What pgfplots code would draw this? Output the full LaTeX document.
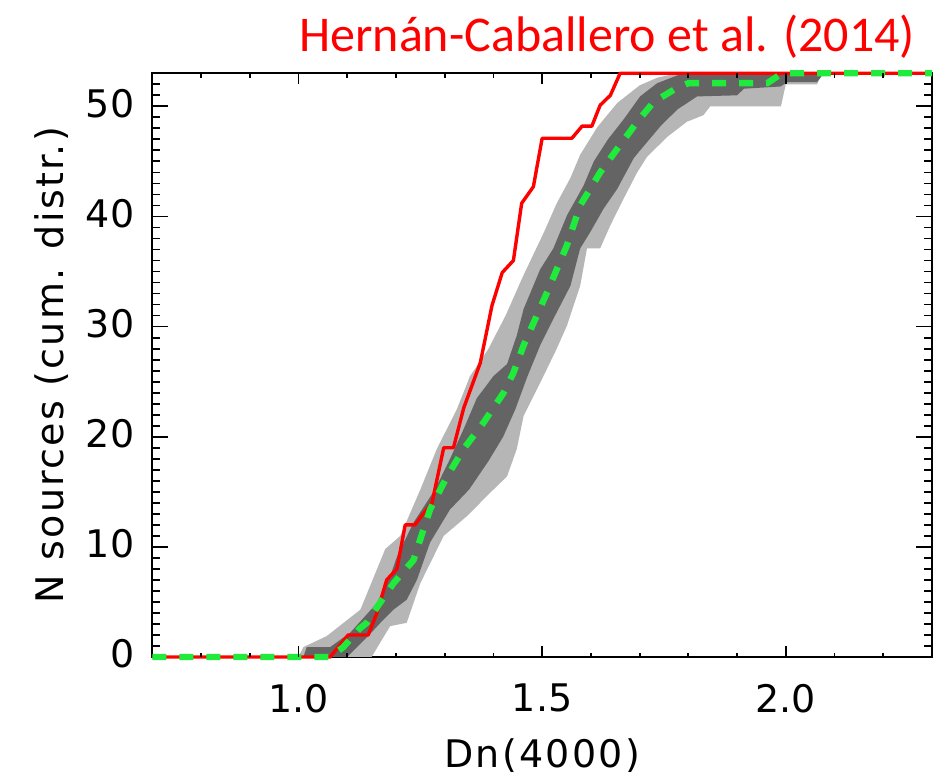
\documentclass[border=0pt]{standalone}
\usepackage{fontspec}
\setmainfont{DejaVu Sans}
\newfontfamily\labelfont[LetterSpace=6]{DejaVu Sans}
\newfontfamily\titlefont{Carlito}
\usepackage{pgfplots}
\pgfplotsset{compat=1.18}

\definecolor{obsred}{RGB}{255,0,0}
\definecolor{simgreen}{RGB}{30,235,60}
\definecolor{banddark}{RGB}{100,100,100}
\definecolor{bandlight}{RGB}{182,182,182}

% shared frame of both axes (data axis and x-tick axis)
\pgfplotsset{
  dnframe/.style={
    at={(76.15pt,58.5pt)}, anchor=south west,
    scale only axis, width=389.85pt, height=291.85pt,
    xmin=0.7, xmax=2.3, ymin=0, ymax=53,
    tick align=inside,
    every tick/.style={black, line width=0.9pt},
    /pgf/number format/assume math mode=true,
  }
}

\begin{document}
\begin{tikzpicture}
% data, frame, y ticks
\begin{axis}[dnframe,
  clip=false,
  axis line style={black, line width=1.2pt},
  xtick=\empty,
  ytick={0,10,20,30,40,50},
  minor ytick={1,...,52},
  major tick length=8pt, minor tick length=4pt,
  yticklabel style={font=\fontsize{19}{22}\selectfont, xshift=-5.5pt, yshift=1.5pt},
  ylabel={N sources (cum. distr.)},
  ylabel style={font=\labelfont\fontsize{19}{22}\selectfont,
    at={(axis description cs:-0.1144,0.5)}, anchor=base},
]
% 2-sigma envelope of the simulations
\addplot[fill=bandlight, draw=none] coordinates {
  (1.000,0) (1.010,0.9) (1.058,1.9) (1.127,4.3) (1.178,9.8) (1.209,11.0)
  (1.250,15.2) (1.284,18.9) (1.325,22.5) (1.352,25.5) (1.390,28.0)
  (1.425,31.0) (1.460,34.5) (1.503,38.5) (1.530,41.2) (1.558,43.5)
  (1.578,45.6) (1.613,48.1) (1.654,50.3) (1.700,51.9) (1.736,52.6)
  (1.777,53.0)
  (2.075,53.0) (2.064,52.0) (2.000,52.0) (1.990,50.0) (1.845,50.0)
  (1.831,49.2) (1.797,48.6) (1.756,47.2) (1.715,45.4) (1.695,44.0)
  (1.667,41.6) (1.640,39.2) (1.619,37.1) (1.592,37.1) (1.578,33.7)
  (1.551,30.1) (1.530,28.0) (1.496,24.9) (1.462,21.9) (1.448,18.9)
  (1.428,16.4) (1.393,14.9) (1.346,12.8) (1.298,11.0) (1.250,6.7)
  (1.222,3.1) (1.188,2.8) (1.150,0)
};
% 1-sigma envelope of the simulations
\addplot[fill=banddark, draw=none] coordinates {
  (1.010,0) (1.017,0.9) (1.065,0.9) (1.106,2.2) (1.161,4.9) (1.188,7.3)
  (1.202,9.1) (1.236,12.2) (1.280,15.2) (1.310,17.9) (1.339,20.7)
  (1.366,23.5) (1.400,25.5) (1.428,26.6) (1.448,29.2) (1.462,31.6)
  (1.496,35.2) (1.523,37.1) (1.551,40.1) (1.585,42.8) (1.606,45.0)
  (1.635,47.0) (1.667,48.8) (1.701,50.9) (1.736,52.1) (1.777,52.8)
  (1.790,53.0)
  (2.078,53.0) (2.064,52.2) (2.003,52.2) (1.989,51.8) (1.914,51.6)
  (1.900,51.0) (1.818,50.9) (1.777,49.7) (1.743,48.2) (1.701,46.0)
  (1.688,45.3) (1.654,42.5) (1.626,40.7) (1.599,38.6) (1.578,37.1)
  (1.558,33.7) (1.523,30.7) (1.496,28.3) (1.470,25.5) (1.445,22.5)
  (1.420,20.0) (1.390,17.8) (1.350,15.2) (1.311,13.4) (1.270,10.4)
  (1.243,7.0) (1.222,5.2) (1.195,4.3) (1.168,3.1) (1.143,1.9) (1.100,0)
};
% observed cumulative distribution
\addplot[obsred, line width=1.7pt, line join=round, mark=none] coordinates {
  (0.700,0) (1.065,0) (1.102,2) (1.143,2) (1.161,4) (1.181,7) (1.202,8)
  (1.219,12) (1.239,12) (1.256,13) (1.274,14) (1.298,19) (1.318,19)
  (1.339,22.6) (1.373,26.7) (1.397,31.9) (1.418,34.9) (1.441,36)
  (1.458,41.2) (1.482,42.7) (1.500,47.1) (1.561,47.1) (1.582,48.2)
  (1.602,48.2) (1.619,50.1) (1.640,51) (1.660,53) (2.300,53)
};
% median of the simulations
\addplot[simgreen, line width=3.2pt, dash pattern=on 7pt off 6.5pt, mark=none] coordinates {
  (0.700,0) (1.065,0) (1.092,0.9) (1.126,2.6) (1.140,3.1) (1.167,4.9)
  (1.195,6.7) (1.236,8.8) (1.270,13.4) (1.305,16.4) (1.339,18.9)
  (1.380,21.3) (1.421,24.0) (1.441,25.8) (1.462,28.3) (1.510,33.1)
  (1.551,37.4) (1.578,41.0) (1.619,44.0) (1.660,46.5) (1.697,48.7)
  (1.729,50.4) (1.770,51.5) (1.800,52.1) (1.962,52.1) (1.992,53)
  (2.300,53)
};
\end{axis}
% x ticks, tick labels and x label
\begin{axis}[dnframe,
  axis line style={draw=none},
  ytick=\empty,
  xtick={1,1.5,2}, xticklabels={1.0,1.5,2.0},
  minor xtick={0.8,0.9,1.1,1.2,1.3,1.4,1.6,1.7,1.8,1.9,2.1,2.2},
  major tick length=5.5pt, minor tick length=2.2pt,
  xticklabel style={font=\fontsize{19}{22}\selectfont, yshift=-10pt},
  xlabel={Dn(4000)},
  xlabel style={font=\labelfont\fontsize{19}{22}\selectfont,
    at={(axis description cs:0.5,-0.1885)}, anchor=base},
]
\end{axis}
\node[anchor=base east, text=obsred, font=\titlefont\fontsize{25}{30}\selectfont]
  at (461pt,361pt) {Hernán-Caballero et al. (2014)};
\pgfresetboundingbox
\path[use as bounding box] (0,0) rectangle (468.5pt,387pt);
\end{tikzpicture}
\end{document}
